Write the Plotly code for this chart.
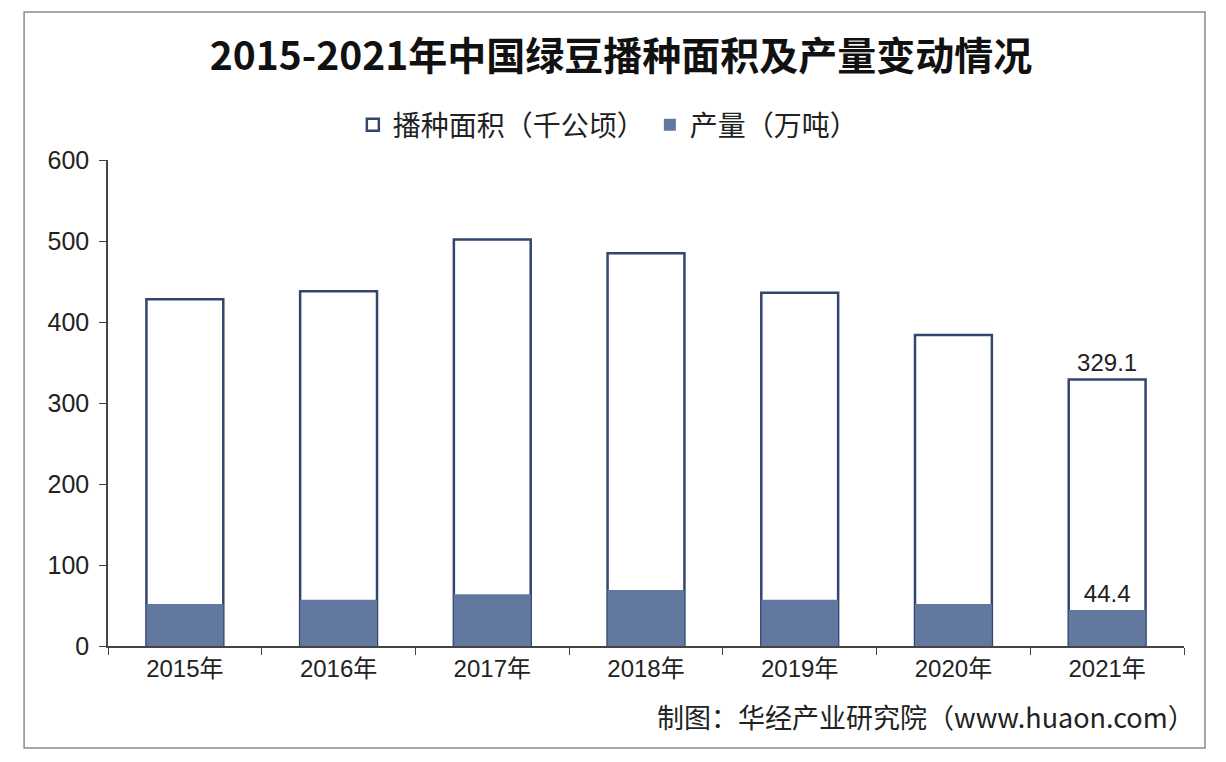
import plotly.graph_objects as go

anos = ['2015年', '2016年', '2017年', '2018年', '2019年', '2020年', '2021年']
area = [428, 438, 502, 485, 436, 384, 329.1]
producao = [52, 57, 64, 69, 57, 52, 44.4]

# so o ultimo ano tem rotulo
rotulo_area = [''] * 6 + ['329.1']
rotulo_prod = [''] * 6 + ['44.4']

fonte = 'Liberation Sans, Noto Sans CJK SC, sans-serif'
fonte_cjk = 'Noto Sans CJK SC, sans-serif'

fig = go.Figure()

fig.add_trace(go.Bar(
    x=anos,
    y=area,
    name='播种面积（千公顷）',
    marker=dict(color='white', line=dict(color='#34466f', width=2.5)),
    text=rotulo_area,
    textposition='outside',
    textfont=dict(size=24, color='#222222', family=fonte),
    cliponaxis=False,
    width=0.5
))

fig.add_trace(go.Bar(
    x=anos,
    y=producao,
    name='产量（万吨）',
    marker=dict(color='#63789f', line=dict(width=0)),
    text=rotulo_prod,
    textposition='outside',
    textfont=dict(size=24, color='#222222', family=fonte),
    cliponaxis=False,
    width=0.5
))

fig.update_layout(
    width=1226,
    height=762,
    barmode='overlay',
    paper_bgcolor='white',
    plot_bgcolor='white',
    margin=dict(l=100, r=50, t=152, b=124),
    font=dict(family=fonte, size=22, color='#222222'),
    title=dict(
        text='<b>2015-2021年中国绿豆播种面积及产量变动情况</b>',
        x=0.5, xanchor='center', y=0.936, yanchor='middle',
        font=dict(size=39, color='#111111', family=fonte_cjk)
    ),
    legend=dict(
        orientation='h', x=0.465, xanchor='center', y=1.072, yanchor='middle',
        font=dict(size=28, color='#222222', family=fonte_cjk),
        itemwidth=30, traceorder='normal'
    ),
    showlegend=True
)

fig.update_xaxes(
    showline=True, linecolor='#444444', linewidth=1.5,
    ticks='outside', tickson='boundaries', ticklen=7, tickcolor='#444444',
    tickfont=dict(size=24, family=fonte, color='#222222'),
    showgrid=False
)
fig.update_yaxes(
    range=[0, 600], dtick=100,
    showline=True, linecolor='#444444', linewidth=1.5,
    ticks='outside', ticklen=7, tickcolor='#444444', ticklabelstandoff=5,
    tickfont=dict(size=25, family=fonte, color='#222222'),
    showgrid=False, zeroline=False
)

# moldura cinza em volta do grafico
fig.add_shape(
    type='rect', xref='paper', yref='paper',
    x0=-0.078, x1=1.0195, y0=-0.21, y1=1.3045,
    line=dict(color='#8a8a8a', width=1.5)
)

fig.add_annotation(
    text='制图：华经产业研究院（www.huaon.com）',
    xref='paper', yref='paper', x=1.012, y=-0.146,
    xanchor='right', yanchor='middle', showarrow=False,
    font=dict(size=27, color='#222222', family=fonte_cjk)
)

fig.write_html('out.html')
